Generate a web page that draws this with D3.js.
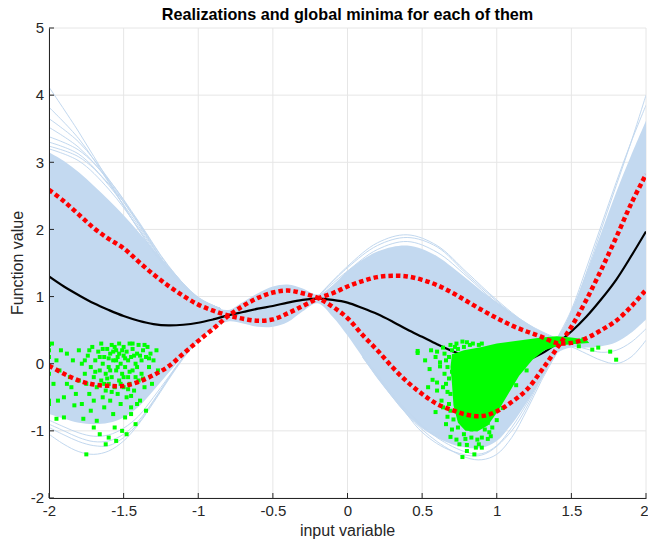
<!DOCTYPE html>
<html>
<head>
<meta charset="utf-8">
<script src="https://cdn.jsdelivr.net/npm/d3@7"></script>
<style>
  body { margin: 0; background: #fff; }
  text { font-family: "Liberation Sans", Arial, sans-serif; fill: #262626; }
</style>
</head>
<body>
<svg id="chart" width="648" height="542"></svg>
<script>
// x grid shared by the mean, the +-2 sigma curves and the dense band
const xGrid = [-2, -1.9, -1.8, -1.7, -1.6, -1.5, -1.4, -1.3, -1.2, -1.1, -1.0,
  -0.9, -0.8, -0.7, -0.6, -0.5, -0.4, -0.3, -0.2, -0.1, 0,
  0.1, 0.2, 0.3, 0.4, 0.5, 0.6, 0.7, 0.8, 0.9, 1.0,
  1.1, 1.2, 1.3, 1.4, 1.5, 1.6, 1.7, 1.8, 1.9, 2.0];

const meanVals = [1.30, 1.15, 1.02, 0.90, 0.80, 0.71, 0.64, 0.59, 0.57, 0.58, 0.61,
  0.66, 0.72, 0.77, 0.82, 0.86, 0.91, 0.95, 0.97, 0.95, 0.91,
  0.83, 0.74, 0.63, 0.51, 0.40, 0.29, 0.19, 0.10, 0.04, 0.01,
  0.00, 0.05, 0.15, 0.30, 0.48, 0.70, 0.96, 1.25, 1.60, 1.97];

// the two dotted red curves (they cross three times)
const redA = [2.59, 2.42, 2.22, 2.02, 1.86, 1.72, 1.52, 1.33, 1.16, 1.01, 0.88,
  0.79, 0.72, 0.67, 0.64, 0.66, 0.75, 0.86, 0.97, 1.05, 1.15,
  1.23, 1.29, 1.31, 1.30, 1.25, 1.17, 1.06, 0.93, 0.80, 0.68,
  0.57, 0.48, 0.40, 0.31, 0.31, 0.38, 0.50, 0.64, 0.85, 1.10];
const redB = [-0.03, -0.15, -0.25, -0.31, -0.33, -0.33, -0.27, -0.17, -0.04, 0.15, 0.34,
  0.52, 0.71, 0.86, 0.98, 1.06, 1.09, 1.05, 0.98, 0.85, 0.68,
  0.43, 0.20, -0.05, -0.27, -0.45, -0.60, -0.69, -0.76, -0.78, -0.71,
  -0.57, -0.39, -0.10, 0.22, 0.55, 0.95, 1.40, 1.88, 2.38, 2.82];

// dense part of the realizations
const bandTop = [3.15, 3.02, 2.85, 2.65, 2.44, 2.21, 1.96, 1.70, 1.45, 1.20, 0.98,
  0.86, 0.80, 0.92, 1.05, 1.15, 1.18, 1.12, 1.03, 1.17, 1.38,
  1.55, 1.67, 1.74, 1.76, 1.71, 1.60, 1.44, 1.26, 1.08, 0.92,
  0.76, 0.61, 0.48, 0.40, 0.80, 1.35, 1.95, 2.55, 3.10, 3.62];
const bandBottom = [-0.75, -0.82, -0.88, -0.9, -0.88, -0.8, -0.64, -0.4, -0.14, 0.12, 0.35,
  0.52, 0.63, 0.60, 0.55, 0.55, 0.62, 0.78, 0.90, 0.70, 0.42,
  0.1, -0.22, -0.5, -0.76, -0.96, -1.1, -1.2, -1.25, -1.25, -1.15,
  -0.9, -0.58, -0.22, 0.15, 0.24, 0.24, 0.26, 0.32, 0.46, 0.66];

// single realizations that stray outside the dense band
const strayCurves = [
  [[-2, 4.12], [-1.8, 3.45], [-1.6, 2.72], [-1.4, 2.0], [-1.2, 1.38], [-1.0, 0.98], [-0.85, 0.82]],
  [[-2, 3.82], [-1.8, 3.35], [-1.6, 2.7], [-1.4, 2.0], [-1.2, 1.38], [-1.0, 0.97], [-0.85, 0.82]],
  [[-2, 3.65], [-1.8, 3.3], [-1.6, 2.75], [-1.4, 2.1], [-1.2, 1.42], [-1.0, 0.97], [-0.85, 0.82]],
  [[-2, 3.52], [-1.8, 3.22], [-1.6, 2.72], [-1.4, 2.08], [-1.2, 1.42], [-1.0, 0.97], [-0.85, 0.82]],
  [[-2, 3.38], [-1.8, 3.18], [-1.6, 2.74], [-1.4, 2.12], [-1.2, 1.46], [-1.0, 0.98], [-0.85, 0.82]],
  [[-2, 3.3], [-1.8, 3.12], [-1.6, 2.66], [-1.4, 2.05], [-1.2, 1.42], [-1.0, 0.98], [-0.85, 0.82]],
  [[-2, 3.24], [-1.8, 3.08], [-1.6, 2.68], [-1.4, 2.1], [-1.2, 1.45], [-1.0, 0.99], [-0.85, 0.82]],
  [[-2, 3.2], [-1.8, 3.02], [-1.6, 2.6], [-1.4, 2.02], [-1.2, 1.4], [-1.0, 0.98], [-0.85, 0.82]],
  [[-2, -1.05], [-1.9, -1.2], [-1.8, -1.31], [-1.7, -1.35], [-1.6, -1.3], [-1.5, -1.15], [-1.4, -0.9], [-1.3, -0.58], [-1.2, -0.24], [-1.1, 0.08], [-1.0, 0.35]],
  [[-2, -0.95], [-1.9, -1.06], [-1.8, -1.16], [-1.7, -1.22], [-1.6, -1.22], [-1.5, -1.1], [-1.4, -0.88], [-1.3, -0.56], [-1.2, -0.22], [-1.1, 0.1], [-1.0, 0.36]],
  [[-2, -0.9], [-1.9, -1.0], [-1.8, -1.1], [-1.7, -1.16], [-1.6, -1.15], [-1.5, -1.05], [-1.4, -0.85], [-1.3, -0.55], [-1.2, -0.22], [-1.1, 0.1], [-1.0, 0.36]],
  [[-2, -0.84], [-1.9, -0.94], [-1.8, -1.03], [-1.7, -1.08], [-1.6, -1.06], [-1.5, -0.96], [-1.4, -0.78], [-1.3, -0.5], [-1.2, -0.2], [-1.1, 0.1], [-1.0, 0.37]],
  [[-0.2, 1.0], [0, 1.45], [0.2, 1.8], [0.4, 1.92], [0.6, 1.76], [0.8, 1.36], [1.0, 0.95], [1.2, 0.6], [1.4, 0.38]],
  [[-0.2, 1.0], [0, 1.43], [0.2, 1.76], [0.4, 1.88], [0.6, 1.74], [0.8, 1.33], [1.0, 0.93], [1.2, 0.58], [1.4, 0.37]],
  [[-0.2, 1.0], [0, 1.38], [0.2, 1.7], [0.4, 1.82], [0.6, 1.66], [0.8, 1.3], [1.0, 0.9], [1.2, 0.56], [1.4, 0.37]],
  [[0.1, 0.1], [0.2, -0.2], [0.4, -0.76], [0.6, -1.16], [0.8, -1.4], [0.9, -1.43], [1.0, -1.35], [1.1, -1.1], [1.2, -0.7], [1.3, -0.25], [1.4, 0.15]],
  [[0.1, 0.12], [0.2, -0.18], [0.4, -0.7], [0.6, -1.1], [0.8, -1.32], [0.9, -1.34], [1.0, -1.22], [1.1, -0.95], [1.2, -0.6], [1.3, -0.2], [1.4, 0.15]],
  [[0.1, 0.13], [0.3, -0.45], [0.5, -1.02], [0.7, -1.3], [0.9, -1.36], [1.1, -1.0], [1.3, -0.22], [1.4, 0.16]],
  [[1.4, 0.36], [1.5, 0.75], [1.6, 1.35], [1.7, 2.0], [1.8, 2.65], [1.9, 3.3], [2.0, 4.0]],
  [[1.4, 0.36], [1.5, 0.8], [1.6, 1.42], [1.7, 2.06], [1.8, 2.7], [1.9, 3.3], [2.0, 3.85]],
  [[1.4, 0.3], [1.5, 0.25], [1.6, 0.15], [1.7, 0.05], [1.8, 0.0], [1.9, 0.1], [2.0, 0.35]],
  [[1.4, 0.3], [1.5, 0.28], [1.6, 0.22], [1.7, 0.17], [1.8, 0.2], [1.9, 0.32], [2.0, 0.52]]
];

// global minima found for the realizations, left group
const minimaLeft = [
  [-2, 0.28], [-2, 0.2], [-2, 0.1], [-2, -0.05], [-2, -0.15], [-2, -0.55], [-2, -0.6], [-1.98, 0.3], [-1.97, -0.3],
  [-1.95, 0.05], [-1.93, -0.1], [-1.94, -0.55], [-1.95, -0.82], [-1.9, -0.8], [-1.9, -0.5], [-1.88, 0.15], [-1.86, -0.2],
  [-1.85, -0.35], [-1.84, 0.05], [-1.82, -0.45], [-1.8, -0.25], [-1.8, 0.2], [-1.78, -0.6], [-1.78, 0.0], [-1.76, -0.15],
  [-1.75, -1.35], [-1.75, -0.3], [-1.74, 0.12], [-1.73, -0.45], [-1.72, -0.7], [-1.72, -0.05], [-1.71, 0.25], [-1.7, -0.2],
  [-1.7, -0.55], [-1.69, 0.05], [-1.68, -0.35], [-1.68, -0.85], [-1.67, 0.18], [-1.66, -0.1], [-1.66, -1.05], [-1.65, -0.25],
  [-1.65, 0.3], [-1.64, -0.5], [-1.64, 0.0], [-1.63, -0.65], [-1.63, 0.1], [-1.62, -0.15], [-1.62, -0.4], [-1.61, 0.22],
  [-1.6, -0.3], [-1.6, -1.1], [-1.6, -0.05], [-1.59, 0.15], [-1.59, -0.55], [-1.58, 0.28], [-1.58, -0.2], [-1.57, -0.75],
  [-1.57, 0.05], [-1.56, -0.35], [-1.56, -0.95], [-1.55, 0.2], [-1.55, -0.1], [-1.54, -0.45], [-1.54, 0.1], [-1.53, -0.25],
  [-1.53, 0.3], [-1.52, -0.6], [-1.52, 0.0], [-1.51, -0.15], [-1.51, -1.0], [-1.5, 0.25], [-1.5, -0.35], [-1.5, 0.12],
  [-1.49, -0.05], [-1.49, -0.8], [-1.48, 0.18], [-1.48, -0.5], [-1.47, -0.2], [-1.47, 0.05], [-1.46, 0.3], [-1.46, -0.3],
  [-1.45, -0.65], [-1.45, 0.1], [-1.44, -0.1], [-1.44, 0.22], [-1.43, -0.4], [-1.42, 0.0], [-1.42, -0.9], [-1.41, 0.15],
  [-1.4, -0.25], [-1.4, 0.28], [-1.39, -0.55], [-1.38, 0.05], [-1.38, -0.15], [-1.37, 0.2], [-1.36, -0.35], [-1.35, 0.1],
  [-1.35, -0.7], [-1.34, 0.25], [-1.33, -0.05], [-1.32, 0.15], [-1.31, -0.3], [-1.3, 0.05], [-1.28, 0.2], [-1.27, -0.1],
  [-1.62, -1.2], [-1.55, -1.15], [-1.48, -1.05], [-1.7, -0.95], [-1.45, -0.75], [-1.41, -0.6], [-1.6, 0.08], [-1.57, 0.18],
  [-1.53, 0.15], [-1.5, -0.2], [-1.47, -0.38], [-1.44, 0.3], [-1.42, -0.2], [-1.39, 0.12], [-1.52, -0.3], [-1.58, -0.42],
  [-1.63, -0.3], [-1.66, 0.1], [-1.55, 0.05], [-1.45, -0.48], [-1.83, -0.62], [-1.77, -0.82], [-1.88, -0.3], [-1.92, 0.2],
  [-1.61, -0.22], [-1.59, -0.1], [-1.56, 0.25], [-1.54, -0.05], [-1.51, 0.2], [-1.49, 0.08], [-1.46, -0.12], [-1.43, 0.12],
  [-1.41, -0.05], [-1.37, -0.22], [-1.36, 0.28], [-1.33, 0.08], [-1.64, 0.22], [-1.69, -0.12], [-1.73, 0.2], [-1.76, 0.05]
];

// right group: scattered minima plus the solid blob they form
const minimaRight = [
  [0.47, 0.16], [0.47, 0.19], [0.55, -0.08], [0.59, 0.1], [0.62, -0.04], [0.64, 0.24], [0.69, 0.28], [0.77, 0.33],
  [0.57, -0.24], [0.6, -0.28], [0.67, -0.42], [0.59, -0.72], [0.67, -0.79], [0.71, -0.83], [0.69, -1.09], [0.73, -1.13],
  [0.8, -1.21], [0.87, -1.13], [0.9, -1.1], [0.94, -1.12], [0.77, -1.39], [0.83, -0.98], [0.92, -0.98], [0.74, -0.95],
  [0.94, -0.88], [0.62, 0.02], [0.65, -0.15], [0.68, 0.1], [0.68, -0.22], [0.63, -0.55], [0.66, -0.3], [0.68, -0.6],
  [0.7, 0.2], [0.74, 0.22], [0.78, 0.25], [0.84, 0.3], [0.88, 0.28], [0.8, -1.3], [0.86, -1.25], [0.83, -1.1],
  [0.97, -0.95], [1.0, -0.84], [1.04, -0.66], [0.78, -1.05], [0.95, -1.02], [1.64, 0.21], [1.68, 0.24], [1.76, 0.18],
  [1.8, 0.06], [1.55, 0.26], [1.58, 0.36], [1.13, -0.32], [1.2, -0.1], [0.76, 0.12], [0.85, -1.35], [0.88, -1.2],
  [0.52, 0.05], [0.56, 0.2], [0.6, -0.4], [0.64, -0.65], [0.66, 0.05], [0.69, -0.45], [0.66, -0.9], [0.7, -0.98],
  [0.75, -1.2], [0.79, -1.12], [0.9, -1.25], [0.96, -1.08], [0.82, 0.28], [0.73, 0.3], [0.6, 0.18], [0.54, -0.35],
  [0.65, 0.15], [0.67, -0.05], [0.69, -0.7], [0.7, -0.12], [0.72, 0.25], [0.8, 0.32], [0.9, 0.3], [0.64, -0.35]
];
const minimaBlob = [
  [0.7, 0.14], [0.78, 0.2], [0.9, 0.25], [1.0, 0.3], [1.1, 0.33], [1.2, 0.36], [1.3, 0.39], [1.4, 0.41],
  [1.5, 0.39], [1.6, 0.36], [1.62, 0.31], [1.5, 0.29], [1.42, 0.27], [1.32, 0.2], [1.24, 0.06], [1.15, -0.18],
  [1.08, -0.44], [1.01, -0.7], [0.94, -0.92], [0.87, -1.01], [0.79, -1.0], [0.74, -0.88], [0.71, -0.62],
  [0.7, -0.3], [0.69, -0.05]
];

const xTicks = [-2, -1.5, -1, -0.5, 0, 0.5, 1, 1.5, 2];
const yTicks = [-2, -1, 0, 1, 2, 3, 4, 5];

function draw() {
  const svg = d3.select("#chart");
  const mLeft = 49, mRight = 646, mTop = 28, mBottom = 498;

  const x = d3.scaleLinear().domain([-2, 2]).range([mLeft, mRight]);
  const y = d3.scaleLinear().domain([-2, 5]).range([mBottom, mTop]);

  // grid
  svg.append("g").selectAll("line")
    .data(xTicks)
    .join("line")
    .attr("x1", d => x(d)).attr("x2", d => x(d))
    .attr("y1", mTop).attr("y2", mBottom)
    .attr("stroke", "#e6e6e6").attr("stroke-width", 1);
  svg.append("g").selectAll("line")
    .data(yTicks)
    .join("line")
    .attr("x1", mLeft).attr("x2", mRight)
    .attr("y1", d => y(d)).attr("y2", d => y(d))
    .attr("stroke", "#e6e6e6").attr("stroke-width", 1);

  svg.append("clipPath").attr("id", "clip")
    .append("rect").attr("x", mLeft).attr("y", mTop)
    .attr("width", mRight - mLeft).attr("height", mBottom - mTop);
  const inner = svg.append("g").attr("clip-path", "url(#clip)");

  // realizations
  const band = d3.area()
    .x((d, i) => x(xGrid[i]))
    .y0((d, i) => y(bandBottom[i]))
    .y1((d, i) => y(bandTop[i]))
    .curve(d3.curveCatmullRom);
  inner.append("path")
    .datum(xGrid)
    .attr("d", band)
    .attr("fill", "#c3d9f0");

  const pairLine = d3.line()
    .x(d => x(d[0])).y(d => y(d[1]))
    .curve(d3.curveCatmullRom);
  inner.selectAll("path.stray")
    .data(strayCurves)
    .join("path")
    .attr("class", "stray")
    .attr("d", pairLine)
    .attr("fill", "none")
    .attr("stroke", "#c2d8ef")
    .attr("stroke-width", 1);

  // mean
  const gridLine = vals => d3.line()
    .x((d, i) => x(xGrid[i]))
    .y(d => y(d))
    .curve(d3.curveCatmullRom)(vals);
  inner.append("path")
    .attr("d", gridLine(meanVals))
    .attr("fill", "none")
    .attr("stroke", "#000")
    .attr("stroke-width", 2.2);

  // minima
  inner.append("path")
    .attr("d", d3.line().x(d => x(d[0])).y(d => y(d[1])).curve(d3.curveLinearClosed)(minimaBlob))
    .attr("fill", "#00ff00");
  const ms = 4;
  inner.selectAll("rect.min")
    .data(minimaLeft.concat(minimaRight))
    .join("rect")
    .attr("class", "min")
    .attr("x", d => x(d[0]) - ms / 2)
    .attr("y", d => y(d[1]) - ms / 2)
    .attr("width", ms).attr("height", ms)
    .attr("fill", "#00ff00");

  // mean +- 2 sigma
  [redA, redB].forEach(vals => {
    inner.append("path")
      .attr("d", gridLine(vals))
      .attr("fill", "none")
      .attr("stroke", "#ff0000")
      .attr("stroke-width", 4.5)
      .attr("stroke-dasharray", "4.5 3");
  });

  // axes
  const xAxis = d3.axisBottom(x).tickValues(xTicks).tickSize(0).tickPadding(7)
    .tickFormat(d => String(d));
  const yAxis = d3.axisLeft(y).tickValues(yTicks).tickSize(0).tickPadding(5)
    .tickFormat(d => String(d));

  const gx = svg.append("g").attr("transform", `translate(0,${mBottom})`).call(xAxis);
  const gy = svg.append("g").attr("transform", `translate(${mLeft},0)`).call(yAxis);
  [gx, gy].forEach(g => {
    g.select(".domain").attr("stroke", "#262626").attr("stroke-width", 1);
    g.selectAll("text").attr("font-size", 15).attr("fill", "#262626")
      .style("font-family", "'Liberation Sans', Arial, sans-serif");
  });
  // last x label sits on the window edge, keep it inside
  gx.selectAll(".tick").filter(d => d === 2).select("text")
    .attr("text-anchor", "end").attr("x", 2);

  // little inward ticks
  svg.append("g").selectAll("line")
    .data(xTicks).join("line")
    .attr("x1", d => x(d)).attr("x2", d => x(d))
    .attr("y1", mBottom).attr("y2", mBottom - 5)
    .attr("stroke", "#262626");
  svg.append("g").selectAll("line")
    .data(yTicks).join("line")
    .attr("x1", mLeft).attr("x2", mLeft + 5)
    .attr("y1", d => y(d)).attr("y2", d => y(d))
    .attr("stroke", "#262626");

  svg.append("text")
    .attr("x", (mLeft + mRight) / 2).attr("y", 20)
    .attr("text-anchor", "middle")
    .attr("font-size", 16.2).attr("font-weight", "bold")
    .style("fill", "#000")
    .text("Realizations and global minima for each of them");

  svg.append("text")
    .attr("x", (mLeft + mRight) / 2).attr("y", 536)
    .attr("text-anchor", "middle")
    .attr("font-size", 16)
    .text("input variable");

  svg.append("text")
    .attr("transform", `translate(23,${(mTop + mBottom) / 2}) rotate(-90)`)
    .attr("text-anchor", "middle")
    .attr("font-size", 16)
    .text("Function value");
}

draw();
</script>
</body>
</html>
